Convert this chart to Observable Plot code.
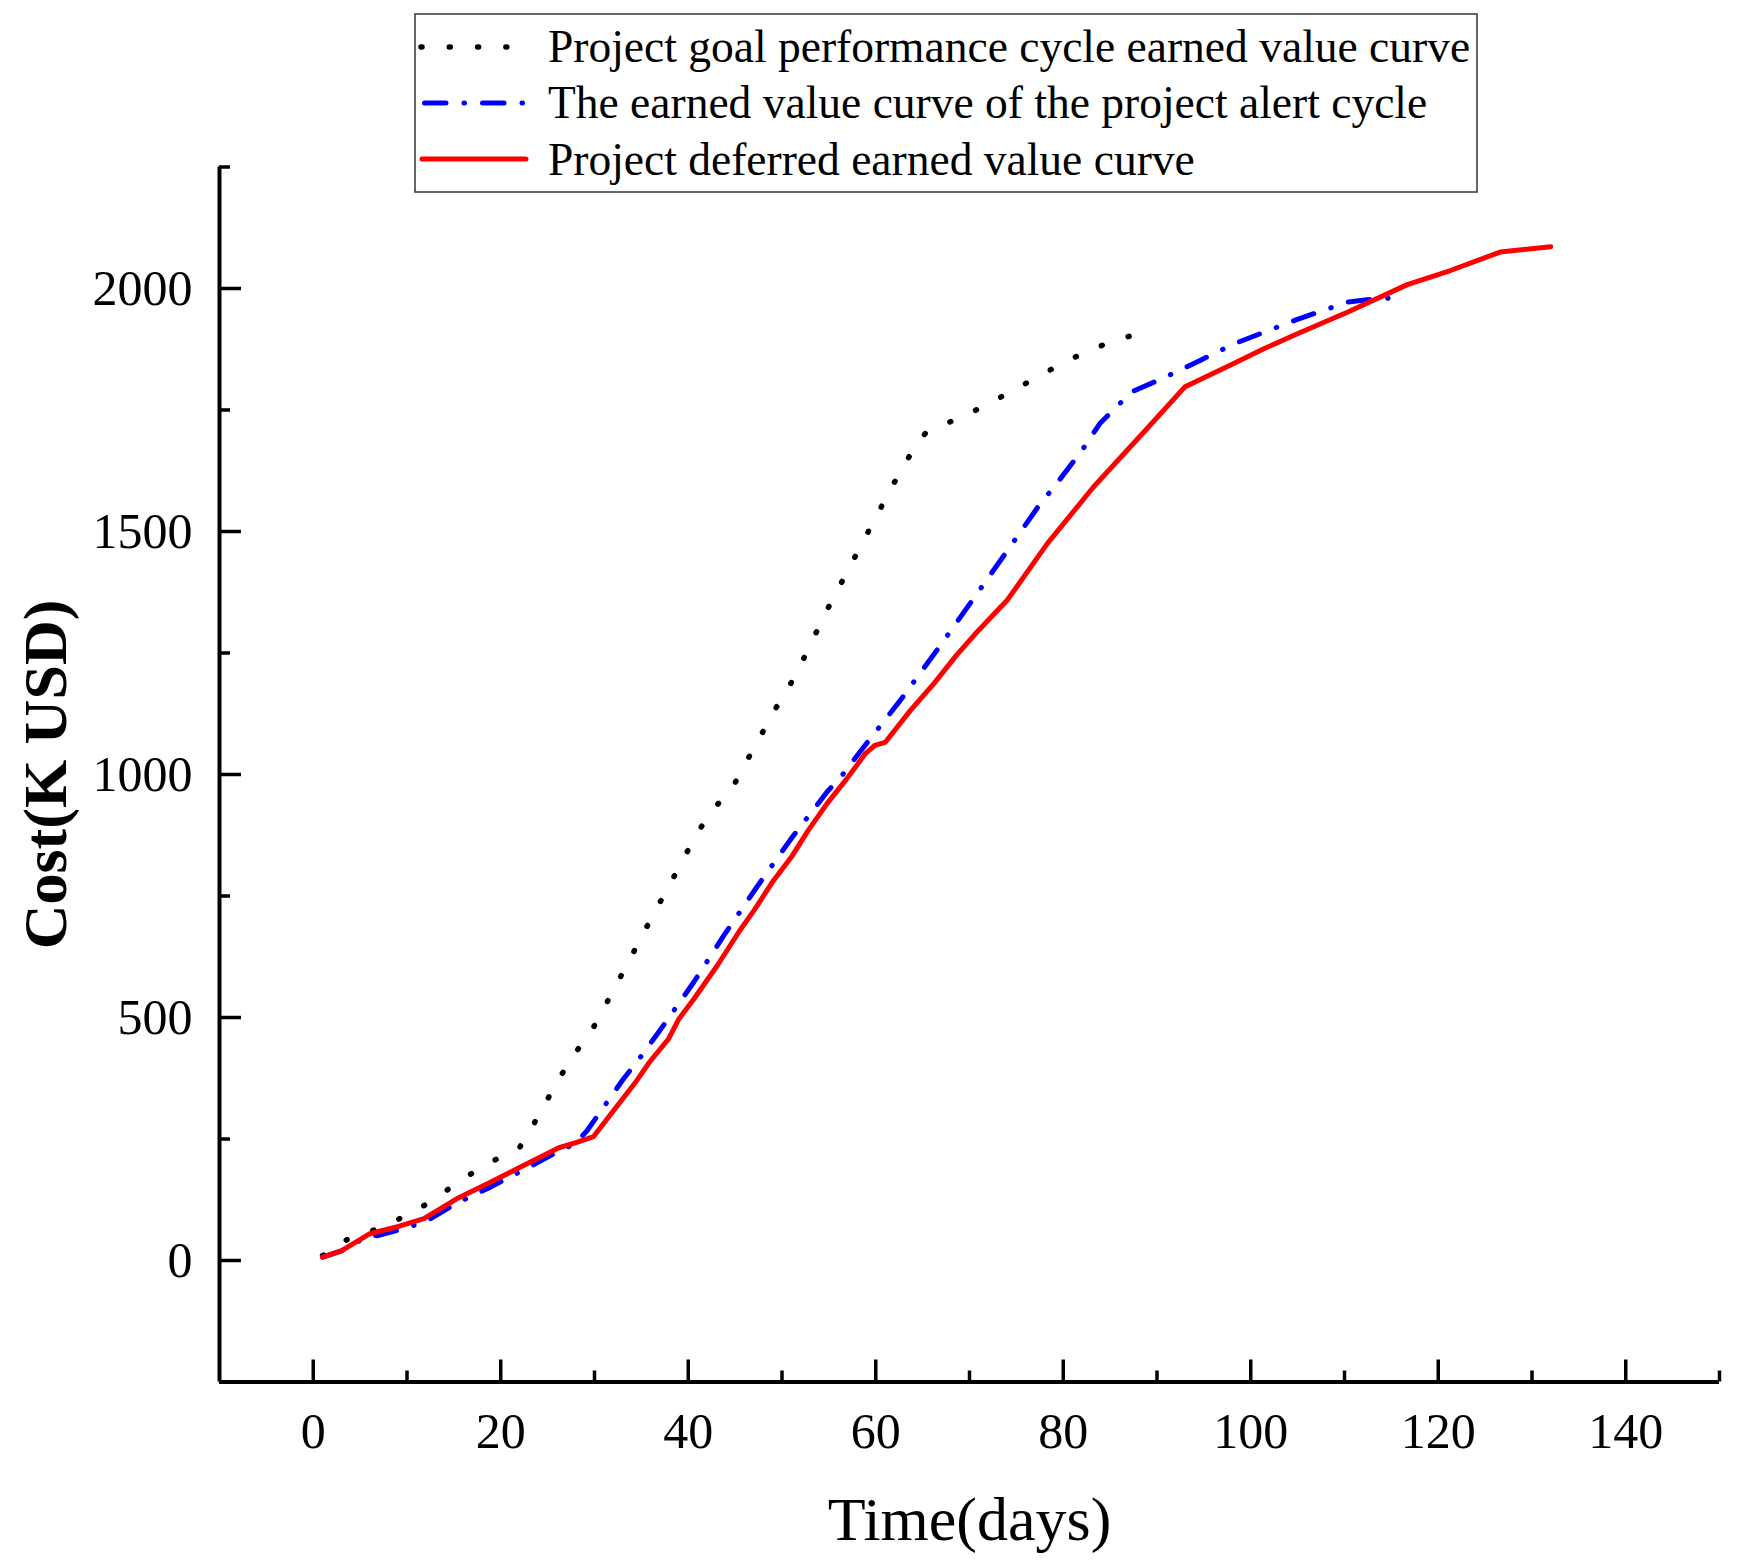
<!DOCTYPE html>
<html>
<head>
<meta charset="utf-8">
<script src="https://cdn.jsdelivr.net/npm/d3@7"></script>
<script src="https://cdn.jsdelivr.net/npm/@observablehq/plot@0.6"></script>
<style>
html, body { margin: 0; padding: 0; background: #fff; overflow: hidden; }
#wrap { position: relative; width: 1746px; height: 1566px; }
#wrap > svg { display: block; }
#legend { position: absolute; left: 0; top: 0; pointer-events: none; }
</style>
</head>
<body>
<div id="wrap"></div>
<script>
// ---- Series names & styles ----
const seriesNames = [
  "Project goal performance cycle earned value curve",
  "The earned value curve of the project alert cycle",
  "Project deferred earned value curve"
];
const seriesColors = ["#000000", "#0000ff", "#ff0000"];

// ---- Goal performance cycle (black dotted) ----
const goalDays = [1, 3.6, 6.5, 9, 12, 14.2, 16.7, 19.5, 22, 23.5, 25, 26.5, 28.1, 29.9, 31.3, 32.7, 34.1, 35.5, 36.9, 38.4, 39.8, 41.2, 42.8, 44.8, 46.1, 47.6, 49, 50.6, 52, 53.3, 54.6, 61.5, 63, 64.6, 65.3, 67, 69.7, 72.4, 75.1, 77.7, 80.5, 83.2, 85.9, 89.6];
const goalCost = [10, 43, 63, 84, 115, 144, 177, 208, 232, 280, 332, 383, 431, 480, 530, 581, 632, 684, 734, 787, 838, 887, 931, 976, 1023, 1075, 1126, 1175, 1226, 1278, 1331, 1584, 1636, 1687, 1702, 1718, 1740, 1767, 1795, 1823, 1852, 1876, 1896, 1914];

// ---- Alert cycle (blue dash-dot) ----
const alertDays = [1, 3, 6, 6.8, 9, 12, 15.3, 19, 23, 26.2, 27.9, 29.2, 33.1, 34.5, 36.7, 40.6, 43.8, 47.3, 50.9, 54.8, 56.4, 58.7, 62.6, 66.5, 70.8, 73.8, 77.5, 79, 82, 83.9, 85.9, 87.5, 90.7, 94.6, 98.2, 104.9, 110.3, 112.4, 116.1];
const alertCost = [7, 20, 52, 51, 62, 80, 118, 152, 192, 225, 240, 267, 374, 408, 466, 573, 669, 768, 866, 964, 998, 1056, 1152, 1255, 1372, 1454, 1556, 1591, 1667, 1722, 1761, 1789, 1816, 1852, 1886, 1936, 1972, 1977, 1982];

// ---- Deferred (red solid) ----
const deferDays = [1, 3, 6, 9.1, 11.8, 15.3, 18.9, 22.8, 26.2, 28.1, 29.9, 34.5, 35.9, 37.9, 39, 40.6, 43.1, 45.5, 47, 49.1, 51.1, 52.8, 54.8, 56.9, 58.9, 59.9, 61, 63.7, 66.2, 68.6, 70.6, 73.3, 74, 78.3, 83.2, 88.9, 93, 97.8, 101.4, 105.1, 110.3, 116.7, 121.3, 126.6, 132];
const deferCost = [7, 20, 55, 70, 86, 127, 161, 199, 232, 243, 255, 370, 409, 456, 497, 538, 607, 679, 720, 782, 833, 885, 940, 991, 1043, 1060, 1066, 1132, 1187, 1245, 1289, 1344, 1358, 1475, 1591, 1711, 1798, 1842, 1876, 1908, 1951, 2008, 2037, 2075, 2086];

// ---- Axes ----
const xDomain = [-10, 150];
const yDomain = [-250, 2250];
const xTicks = [0, 20, 40, 60, 80, 100, 120, 140];
const xMinorTicks = [10, 30, 50, 70, 90, 110, 130, 150];
const yTicks = [0, 500, 1000, 1500, 2000];
const yMinorTicks = [250, 750, 1250, 1750, 2250];
const xTitle = "Time(days)";
const yTitle = "Cost(K USD)";

// ---- Build tables ----
const goalData = goalDays.map((d, i) => ({day: d, cost: goalCost[i]}));
const alertData = alertDays.map((d, i) => ({day: d, cost: alertCost[i]}));
const deferData = deferDays.map((d, i) => ({day: d, cost: deferCost[i]}));

const lineStyles = [
  {strokeWidth: 5.5, strokeDasharray: "1,27.3", strokeLinecap: "round"},
  {strokeWidth: 5, strokeDasharray: "21.5,18,0.5,18", strokeLinecap: "round"},
  {strokeWidth: 5, strokeDasharray: null, strokeLinecap: "round"}
];

const FONT = "'Liberation Serif', 'Times New Roman', serif";

const chart = Plot.plot({
  width: 1746,
  height: 1566,
  marginLeft: 219,
  marginRight: 27,
  marginTop: 166.5,
  marginBottom: 184.5,
  x: {domain: xDomain, label: null},
  y: {domain: yDomain, label: null},
  style: {fontFamily: FONT, fontSize: "50px", color: "black", background: "white"},
  marks: [
    Plot.line(goalData, {x: "day", y: "cost", stroke: seriesColors[0], ...lineStyles[0], strokeLinejoin: "round"}),
    Plot.line(alertData, {x: "day", y: "cost", stroke: seriesColors[1], ...lineStyles[1], strokeLinejoin: "round"}),
    Plot.line(deferData, {x: "day", y: "cost", stroke: seriesColors[2], ...lineStyles[2], strokeLinejoin: "round"}),
    // axis lines
    Plot.ruleX([xDomain[0]], {stroke: "black", strokeWidth: 4}),
    Plot.ruleY([yDomain[0]], {stroke: "black", strokeWidth: 4}),
    // x axis
    Plot.axisX({anchor: "bottom", ticks: xTicks, tickSize: -22, tickPadding: 52, strokeWidth: 3.5, fontSize: 50, tickFormat: d => String(d), label: null}),
    Plot.axisX({anchor: "bottom", ticks: xMinorTicks, tickSize: -11, strokeWidth: 3.5, fill: "none", label: null}),
    // y axis
    Plot.axisY({anchor: "left", ticks: yTicks, tickSize: -22, tickPadding: 49, strokeWidth: 3.5, fontSize: 50, tickFormat: d => String(d), label: null}),
    Plot.axisY({anchor: "left", ticks: yMinorTicks, tickSize: -11, strokeWidth: 3.5, fill: "none", label: null}),
    // titles
    Plot.text([xTitle], {text: d => d, frameAnchor: "bottom", lineAnchor: "middle", textAnchor: "middle", dy: 138.5, fontSize: 62, fill: "black"}),
    Plot.text([yTitle], {text: d => d, frameAnchor: "left", lineAnchor: "middle", textAnchor: "middle", rotate: -90, dx: -173, dy: 0, fontSize: 62, fontWeight: "bold", fill: "black"})
  ]
});

const wrap = document.getElementById("wrap");
wrap.appendChild(chart);

// ---- Legend (overlay) ----
const legend = d3.select(wrap).append("svg")
  .attr("id", "legend")
  .attr("width", 1746)
  .attr("height", 200);

legend.append("rect")
  .attr("x", 415).attr("y", 14).attr("width", 1062).attr("height", 178)
  .attr("fill", "white").attr("stroke", "#333").attr("stroke-width", 1.5);

const rowLineY = [47, 103, 159];
const rowTextY = [62, 118, 175];
const lineStarts = [421, 424.5, 422];

seriesNames.forEach((name, i) => {
  const st = lineStyles[i];
  const ln = legend.append("line")
    .attr("x1", lineStarts[i]).attr("x2", 526)
    .attr("y1", rowLineY[i]).attr("y2", rowLineY[i])
    .attr("stroke", seriesColors[i])
    .attr("stroke-width", st.strokeWidth)
    .attr("stroke-linecap", st.strokeLinecap);
  if (st.strokeDasharray) ln.attr("stroke-dasharray", st.strokeDasharray);
  legend.append("text")
    .attr("x", 548).attr("y", rowTextY[i])
    .attr("font-family", FONT)
    .attr("font-size", 45.5)
    .attr("fill", "black")
    .text(name);
});
</script>
</body>
</html>
